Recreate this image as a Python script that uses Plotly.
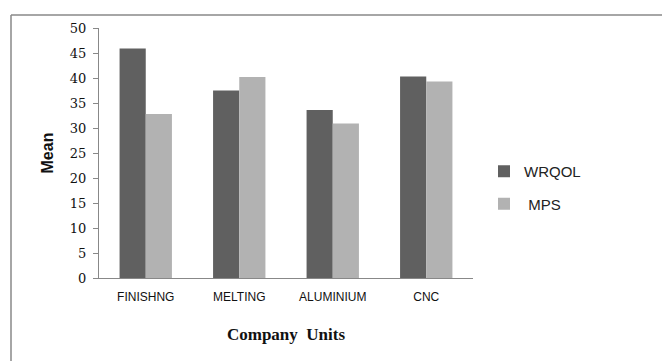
import plotly.graph_objects as go

categories = ["FINISHNG", "MELTING", "ALUMINIUM", "CNC"]
wrqol = [45.9, 37.5, 33.6, 40.3]
mps = [32.8, 40.2, 30.9, 39.3]
series_names = ["WRQOL", " MPS"]
y_ticks = list(range(0, 51, 5))

W, H = 662, 361
L, R, T, B = 99, 189, 28, 83
pw, ph = W - L - R, H - T - B

def px_x(p):
    return (p - L) / pw

def px_y(p):
    return (H - B - p) / ph

fig = go.Figure()
fig.add_trace(go.Bar(x=categories, y=wrqol, name=series_names[0], legendgroup="a",
                     marker=dict(color="#606060", line=dict(width=0))))
fig.add_trace(go.Bar(x=categories, y=mps, name=series_names[1], legendgroup="b",
                     marker=dict(color="#b2b2b2", line=dict(width=0))))

fig.update_layout(
    width=W, height=H,
    margin=dict(l=L, r=R, t=T, b=B),
    paper_bgcolor="white", plot_bgcolor="white",
    barmode="group", bargap=0.44, bargroupgap=0,
    showlegend=True,
    legend=dict(x=px_x(484), y=px_y(155), xanchor="left", yanchor="top",
                font=dict(family="Liberation Sans, Arial", size=15, color="#222"),
                bgcolor="rgba(0,0,0,0)", tracegroupgap=10),
    xaxis=dict(showline=True, linecolor="#888", linewidth=1, ticks="",
               tickfont=dict(family="Liberation Sans, Arial", size=12, color="#111"),
               ticklabelstandoff=8,
               showgrid=False, zeroline=False,
               title=dict(text="<b>Company  Units</b>", font=dict(family="Liberation Serif, Times New Roman", size=17, color="#111"), standoff=24)),
    yaxis=dict(range=[0, 50], tickvals=y_ticks, showline=True, linecolor="#888", linewidth=1,
               ticks="outside", ticklen=5, tickcolor="#888",
               tickfont=dict(family="DejaVu Serif", size=13, color="#111"),
               ticklabelstandoff=4,
               showgrid=False, zeroline=False,
               title=dict(text="<b>Mean</b>", font=dict(family="Liberation Sans, Arial", size=16, color="#111"), standoff=12)),
)

fig.update_layout(shapes=[
    dict(type="line", xref="paper", yref="paper", x0=px_x(11), x1=px_x(11), y0=px_y(15), y1=px_y(361), line=dict(color="#888", width=1.5)),
    dict(type="line", xref="paper", yref="paper", x0=px_x(11), x1=px_x(662), y0=px_y(15), y1=px_y(15), line=dict(color="#888", width=1.5)),
])

fig.write_html("out.html")
